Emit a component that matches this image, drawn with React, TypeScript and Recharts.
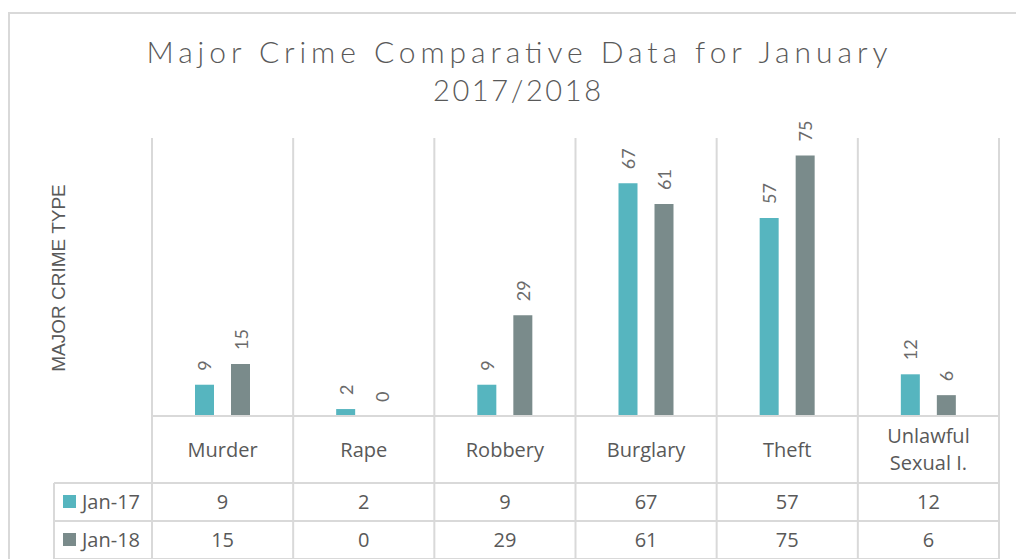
import React from 'react';
import { BarChart, Bar, XAxis, YAxis, LabelList } from 'recharts';

const categories = ['Murder', 'Rape', 'Robbery', 'Burglary', 'Theft', 'Unlawful Sexual I.'];
const categoryLabelLines = [['Murder'], ['Rape'], ['Robbery'], ['Burglary'], ['Theft'], ['Unlawful', 'Sexual I.']];
const jan17 = [9, 2, 9, 67, 57, 12];
const jan18 = [15, 0, 29, 61, 75, 6];
const seriesNames = ['Jan-17', 'Jan-18'];
const seriesColors = ['#56B5BF', '#7A8B8B'];
const yDomain = [0, 80];
const titleLines = ['Major Crime Comparative Data for January', '2017/2018'];
const yAxisTitle = 'MAJOR CRIME TYPE';

const data = categories.map((c, i) => ({ name: c, jan17: jan17[i], jan18: jan18[i] }));

const W = 1016;
const H = 559;
const PLOT_TOP = 138;
const PLOT_LEFT = 152;
const PLOT_RIGHT_MARGIN = 17;
const AXIS_H = 143;
const HEADER_H = 67;
const ROW_H = 38;
const LEGEND_LEFT = 54;
const GRID = '#d9d9d9';
const TEXT = '#595959';
const TABLE_FONT = '"Open Sans", sans-serif';

const TableTick = (props: any) => {
  const { x, y, payload, index, visibleTicksCount, width } = props;
  const n = visibleTicksCount || categories.length;
  const half = payload && payload.offset ? payload.offset : (width || W - PLOT_LEFT - PLOT_RIGHT_MARGIN) / n / 2;
  const left = x - half;
  const right = x + half;
  const bottom = y + HEADER_H + ROW_H * 2;
  const lines = categoryLabelLines[index] || [payload.value];
  const vals = [jan17[index], jan18[index]];
  const els: any[] = [];
  els.push(<line key="l" x1={left} x2={left} y1={PLOT_TOP} y2={bottom} stroke={GRID} strokeWidth={2} />);
  if (index === n - 1) {
    els.push(<line key="r" x1={right} x2={right} y1={PLOT_TOP} y2={bottom} stroke={GRID} strokeWidth={2} />);
  }
  if (lines.length === 1) {
    els.push(
      <text key="h" x={x} y={y + 41} textAnchor="middle" fontSize={20} fill={TEXT} fontFamily={TABLE_FONT}>{lines[0]}</text>
    );
  } else {
    lines.forEach((ln: string, k: number) => {
      els.push(
        <text key={'h' + k} x={x} y={y + 27 + k * 27} textAnchor="middle" fontSize={20} fill={TEXT} fontFamily={TABLE_FONT}>{ln}</text>
      );
    });
  }
  const rowTop0 = y + HEADER_H;
  const lineStart = index === 0 ? LEGEND_LEFT : left;
  for (let r = 0; r <= 2; r++) {
    const ry = rowTop0 + r * ROW_H;
    els.push(<line key={'hl' + r} x1={lineStart} x2={right} y1={ry} y2={ry} stroke={GRID} strokeWidth={2} />);
  }
  vals.forEach((v, r) => {
    els.push(
      <text key={'v' + r} x={x} y={rowTop0 + r * ROW_H + 26} textAnchor="middle" fontSize={20} fill={TEXT} fontFamily={TABLE_FONT}>{v}</text>
    );
  });
  if (index === 0) {
    els.push(<line key="legl" x1={LEGEND_LEFT} x2={LEGEND_LEFT} y1={rowTop0} y2={bottom} stroke={GRID} strokeWidth={2} />);
    seriesNames.forEach((s, r) => {
      const cy = rowTop0 + r * ROW_H + ROW_H / 2;
      els.push(<rect key={'m' + r} x={LEGEND_LEFT + 9} y={cy - 7} width={13} height={13} fill={seriesColors[r]} />);
      els.push(
        <text key={'s' + r} x={LEGEND_LEFT + 28} y={rowTop0 + r * ROW_H + 26} fontSize={20} fill={TEXT} fontFamily={TABLE_FONT}>{s}</text>
      );
    });
  }
  return <g>{els}</g>;
};

const RotLabel = (props: any) => {
  const vb = props.viewBox || props;
  const x = vb.x ?? props.x;
  const y = vb.y ?? props.y;
  const w = vb.width ?? props.width;
  const h = vb.height ?? 0;
  const top = h < 0 ? y + h : y;
  const cx = x + w / 2;
  const ty = top - 14;
  return (
    <text
      x={cx}
      y={ty}
      transform={`rotate(-90 ${cx} ${ty})`}
      textAnchor="start"
      dominantBaseline="central"
      fontSize={18}
      fill="#6a6a6a"
      fontFamily="Lato, sans-serif"
    >
      {props.value}
    </text>
  );
};

const minSize = (v: any) => (v === 0 ? 0.01 : 0);

export default function App() {
  return (
    <div style={{ position: 'absolute', left: 0, top: 0, width: W, height: H, background: '#fff', overflow: 'hidden' }}>
      <BarChart
        width={W}
        height={H}
        data={data}
        margin={{ top: PLOT_TOP, right: PLOT_RIGHT_MARGIN, bottom: 0, left: PLOT_LEFT }}
        barSize={19}
        barGap={17}
      >
        <XAxis
          dataKey="name"
          height={AXIS_H}
          interval={0}
          tickLine={false}
          tickSize={0}
          tickMargin={0}
          axisLine={{ stroke: GRID, strokeWidth: 2 }}
          tick={<TableTick />}
        />
        <YAxis hide domain={yDomain} />
        <Bar dataKey="jan17" name={seriesNames[0]} fill={seriesColors[0]} minPointSize={minSize} isAnimationActive={false}>
          <LabelList dataKey="jan17" content={<RotLabel />} />
        </Bar>
        <Bar dataKey="jan18" name={seriesNames[1]} fill={seriesColors[1]} minPointSize={minSize} isAnimationActive={false}>
          <LabelList dataKey="jan18" content={<RotLabel />} />
        </Bar>
      </BarChart>
      <svg width={W} height={H} style={{ position: 'absolute', left: 0, top: 0, pointerEvents: 'none' }}>
        <line x1={8} x2={W} y1={13} y2={13} stroke={GRID} strokeWidth={2} />
        <line x1={9} x2={9} y1={13} y2={H} stroke={GRID} strokeWidth={2} />
        <text x={517} y={63} textAnchor="middle" fontSize={30} fontWeight={300} textLength={741} lengthAdjust="spacing" fill={TEXT} fontFamily="Lato, sans-serif">
          {titleLines[0]}
        </text>
        <text x={517} y={101} textAnchor="middle" fontSize={29} fontWeight={300} textLength={168} lengthAdjust="spacing" fill={TEXT} fontFamily="Lato, sans-serif">
          {titleLines[1]}
        </text>
        <text
          x={58}
          y={278}
          transform="rotate(-90 58 278)"
          textAnchor="middle"
          dominantBaseline="central"
          fontSize={19}
          fill={TEXT}
          fontFamily='"Liberation Sans", Arial, sans-serif'
        >
          {yAxisTitle}
        </text>
      </svg>
    </div>
  );
}
